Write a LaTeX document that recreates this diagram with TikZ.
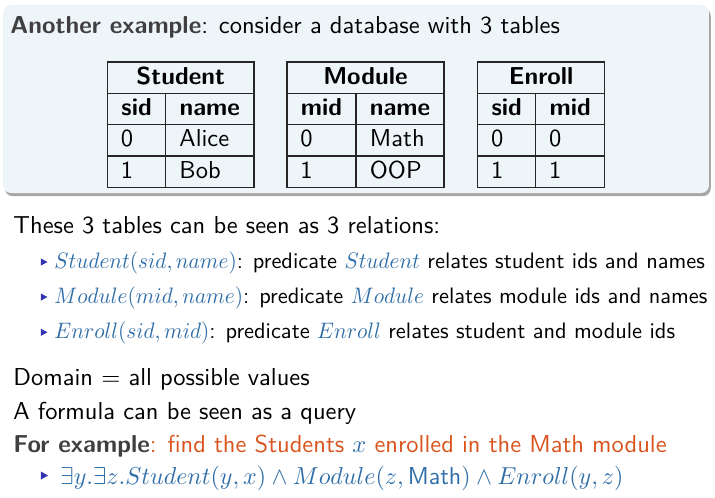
\documentclass[tikz,border=0pt]{standalone}
\usepackage{amssymb}
\usetikzlibrary{shadows}
\renewcommand{\familydefault}{\sfdefault}
\definecolor{boxfill}{HTML}{EEF5F9}
\definecolor{mathblue}{HTML}{2F6EA8}
\definecolor{alertorange}{HTML}{D9541E}
\definecolor{headgray}{HTML}{3F3F3F}
\definecolor{bulletblue}{HTML}{3333B3}
\newcommand{\pred}[2][0.95]{\textcolor{mathblue}{\scalebox{#1}[1]{$#2$}}}
\tikzset{
  txt/.style={anchor=base west, inner sep=0pt, font=\fontsize{10.95}{13}\selectfont},
  itm/.style={txt, font=\fontsize{10}{12}\selectfont},
  hcell/.style={anchor=base, inner sep=0pt, font=\fontsize{10.95}{13}\selectfont\bfseries},
  tblline/.style={draw=black!85, line width=0.55pt},
  bullet/.style={fill=bulletblue}
}
\begin{document}
\begin{tikzpicture}[x=0.447pt, y=-0.447pt]
\useasboundingbox (0,0) rectangle (715,498);

% the block
\path[fill=boxfill, rounded corners=3.5pt,
  drop shadow={shadow xshift=0.8pt, shadow yshift=-1.4pt, fill=black, opacity=0.35}]
  (3,5) rectangle (709,193);
\node[txt] (title) at (10,33) {\textcolor{headgray}{\textbf{Another example}}: consider a database with 3 tables};

% Student table
\draw[tblline] (107.5,62) rectangle (254,187.3);
\foreach \r in {93.3,124.6,156} \draw[tblline] (107.5,\r) -- (254,\r);
\draw[tblline] (165.7,93.3) -- (165.7,187.3);
\node[hcell] (stT) at (180.7,84) {Student};
\node[hcell] (stA) at (136.6,115.3) {sid};
\node[hcell] (stB) at (209.8,115.3) {name};
\node[txt] (st1a) at (120.5,146.6) {0};
\node[txt] (st1b) at (179,146.6) {Alice};
\node[txt] (st2a) at (120.5,178) {1};
\node[txt] (st2b) at (179,178) {Bob};

% Module table
\draw[tblline] (287,62) rectangle (444,187.3);
\foreach \r in {93.3,124.6,156} \draw[tblline] (287,\r) -- (444,\r);
\draw[tblline] (356,93.3) -- (356,187.3);
\node[hcell] (moT) at (365.5,84) {Module};
\node[hcell] (moA) at (321.5,115.3) {mid};
\node[hcell] (moB) at (400,115.3) {name};
\node[txt] (mo1a) at (300,146.6) {0};
\node[txt] (mo1b) at (369.5,146.6) {Math};
\node[txt] (mo2a) at (300,178) {1};
\node[txt] (mo2b) at (369.5,178) {OOP};

% Enroll table
\draw[tblline] (477.7,62) rectangle (604.7,187.3);
\foreach \r in {93.3,124.6,156} \draw[tblline] (477.7,\r) -- (604.7,\r);
\draw[tblline] (535.7,93.3) -- (535.7,187.3);
\node[hcell] (enT) at (541.2,84) {Enroll};
\node[hcell] (enA) at (506.7,115.3) {sid};
\node[hcell] (enB) at (570.2,115.3) {mid};
\node[txt] (en1a) at (490.7,146.6) {0};
\node[txt] (en1b) at (548.7,146.6) {0};
\node[txt] (en2a) at (490.7,178) {1};
\node[txt] (en2b) at (548.7,178) {1};

% relations
\node[txt] (rel) at (13,233.5) {These 3 tables can be seen as 3 relations:};
\node[itm] (it1) at (54,268.5) {\pred{Student(sid, name)}: predicate \pred{Student} relates student ids and names};
\node[itm] (it2) at (54,303.5) {\pred{Module(mid, name)}: predicate \pred{Module} relates module ids and names};
\node[itm] (it3) at (54,338.8) {\pred{Enroll(sid, mid)}: predicate \pred{Enroll} relates student and module ids};

\node[txt] (dom) at (13,385) {Domain $=$ all possible values};
\node[txt] (qry) at (13,419.5) {A formula can be seen as a query};
\node[txt] (ex) at (13,452) {\textcolor{headgray}{\textbf{For example}}\textcolor{alertorange}{: find the Students \pred[1]{x} enrolled in the Math module}};
\node[txt] (fml) at (60,484) {\pred[0.98]{\exists y.\exists z.Student(y,x) \wedge Module(z,\textsf{Math}) \wedge Enroll(y,z)}};

\foreach \y in {268.5,303.5,338.8} \fill[bullet] (41,\y-10) -- (47.5,\y-6.5) -- (41,\y-3) -- cycle;
\fill[bullet] (41,471.5) -- (48,475.5) -- (41,479.5) -- cycle;

\end{tikzpicture}
\end{document}
